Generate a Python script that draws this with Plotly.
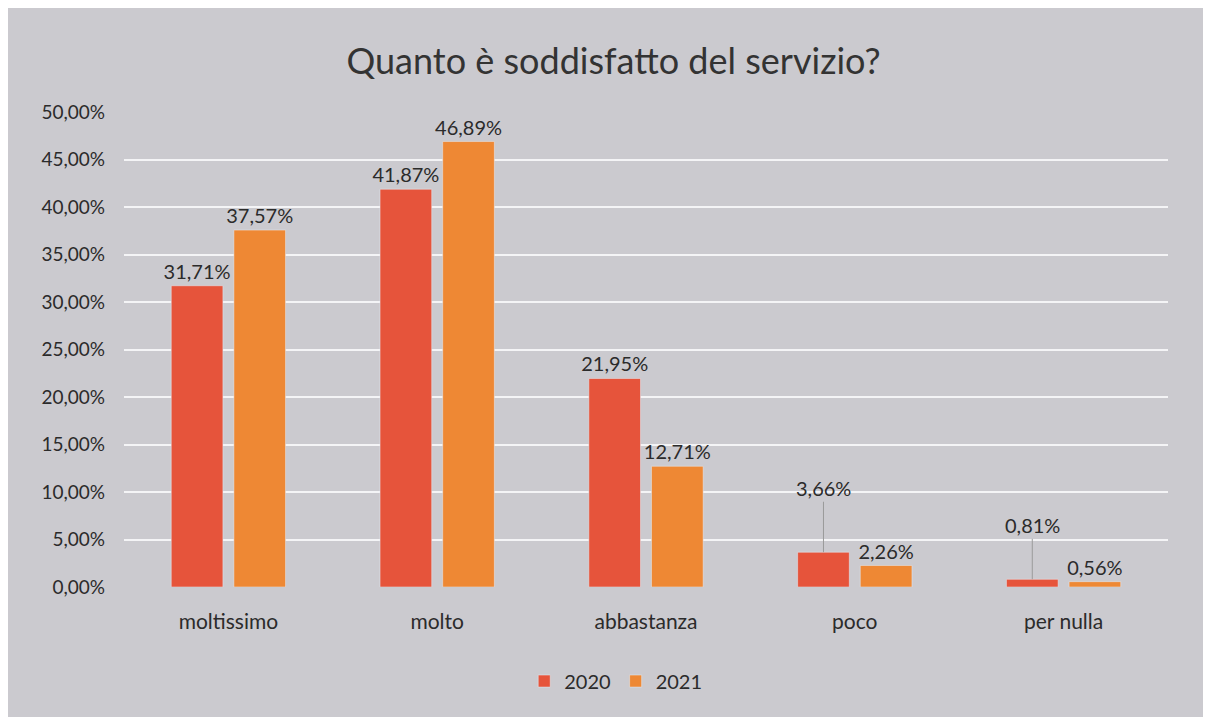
import plotly.graph_objects as go

categories = ["moltissimo", "molto", "abbastanza", "poco", "per nulla"]
values_2020 = [0.3171, 0.4187, 0.2195, 0.0366, 0.0081]
values_2021 = [0.3757, 0.4689, 0.1271, 0.0226, 0.0056]
tick_vals = [i * 0.05 for i in range(11)]

color_2020 = "#E6543B"
color_2021 = "#EE8834"
font_family = "Lato, 'Noto Sans', sans-serif"
text_color = "#2b2b2b"
label_size = 20

# labels moved away with leader line (2020 small values)
leader_idx = [3, 4]
leader_ay = [-64, -54]

fig = go.Figure()
fig.add_trace(go.Bar(
    name="2020", x=categories, y=values_2020, marker_color=color_2020,
    texttemplate=["%{y:.2%}" if i not in leader_idx else "" for i in range(len(categories))],
    textposition="outside", constraintext="none",
    textfont=dict(size=label_size, color=text_color, family=font_family),
    cliponaxis=False,
))
fig.add_trace(go.Bar(
    name="2021", x=categories, y=values_2021, marker_color=color_2021,
    texttemplate="%{y:.2%}",
    textposition="outside", constraintext="none",
    textfont=dict(size=label_size, color=text_color, family=font_family),
    cliponaxis=False,
))

bargap = 0.40
half = (1 - bargap) / 4
for i, ay in zip(leader_idx, leader_ay):
    v = values_2020[i]
    fig.add_annotation(
        x=i - half, y=v, xref="x", yref="y",
        text=f"{v*100:.2f}%".replace(".", ","),
        showarrow=True, arrowhead=0, arrowwidth=1, arrowcolor="#9a9a9a",
        ax=0, ay=ay, font=dict(size=label_size, color=text_color, family=font_family),
    )

fig.update_layout(
    title=dict(text="Quanto è soddisfatto del servizio?", x=0.5, xref="container",
               xanchor="center", y=0.925, yanchor="middle",
               font=dict(size=36, color="#333333", family=font_family)),
    barmode="group", bargap=bargap, bargroupgap=0.175,
    separators=",.",
    paper_bgcolor="#cbcacf", plot_bgcolor="#cbcacf",
    width=1211, height=717,
    margin=dict(l=116, r=51, t=104, b=138, autoexpand=False),
    font=dict(family=font_family, color=text_color, size=18),
    legend=dict(orientation="h", x=0.471, xanchor="center",
                y=-0.198, yanchor="middle",
                font=dict(size=20, color=text_color), bgcolor="rgba(0,0,0,0)"),
    xaxis=dict(type="category", showgrid=False, showline=False, ticks="", tickangle=0,
               tickfont=dict(size=21, color=text_color)),
    yaxis=dict(range=[0, 0.5], tickvals=tick_vals, tickformat=".2%",
               showgrid=True, gridcolor="#f4f4f6", gridwidth=2, zeroline=False,
               showline=False, ticks="", ticklen=0,
               tickfont=dict(size=19, color=text_color)),
)
fig.update_yaxes(ticklabelstandoff=18)
fig.update_xaxes(ticklabelstandoff=20)

fig.write_html("out.html")
